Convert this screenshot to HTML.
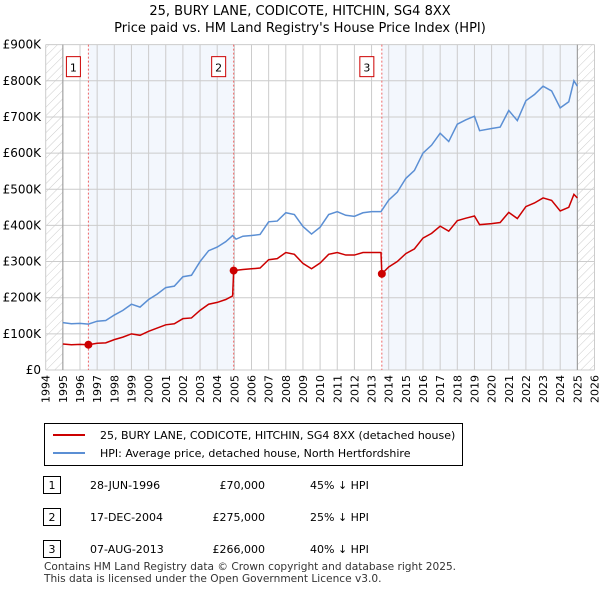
<!DOCTYPE html>
<html><head><meta charset="utf-8"><style>
body{margin:0;background:#fff;font-family:"Liberation Sans","DejaVu Sans",sans-serif;}
svg text{font-family:"DejaVu Sans","Liberation Sans",sans-serif;}
</style></head><body>
<svg id="c" width="600" height="590" xmlns="http://www.w3.org/2000/svg">
<defs><pattern id="hatch" width="6" height="6" patternUnits="userSpaceOnUse" patternTransform="rotate(45)"><line x1="0" y1="0" x2="0" y2="6" stroke="#ccc" stroke-width="1"/></pattern></defs>
<text x="300" y="15" text-anchor="middle" font-size="13">25, BURY LANE, CODICOTE, HITCHIN, SG4 8XX</text>
<text x="300" y="32" text-anchor="middle" font-size="13">Price paid vs. HM Land Registry's House Price Index (HPI)</text>
<g id="plot"></g>
<g>
<rect x="44.5" y="423.5" width="418" height="42" fill="#fff" stroke="#000"/>
<line x1="53" y1="435" x2="85" y2="435" stroke="#cc0000" stroke-width="2"/>
<text x="100" y="439" font-size="11">25, BURY LANE, CODICOTE, HITCHIN, SG4 8XX (detached house)</text>
<line x1="53" y1="453" x2="85" y2="453" stroke="#5b8fd4" stroke-width="2"/>
<text x="100" y="457" font-size="11">HPI: Average price, detached house, North Hertfordshire</text>
</g>
<g font-size="11">
<rect x="43.5" y="476.5" width="17" height="17" fill="#fff" stroke="#000"/><text x="52" y="489" text-anchor="middle">1</text>
<text x="90" y="489">28-JUN-1996</text><text x="265" y="489" text-anchor="end">£70,000</text><text x="310" y="489">45% ↓ HPI</text>
<rect x="43.5" y="508.5" width="17" height="17" fill="#fff" stroke="#000"/><text x="52" y="521" text-anchor="middle">2</text>
<text x="90" y="521">17-DEC-2004</text><text x="265" y="521" text-anchor="end">£275,000</text><text x="310" y="521">25% ↓ HPI</text>
<rect x="43.5" y="540.5" width="17" height="17" fill="#fff" stroke="#000"/><text x="52" y="553" text-anchor="middle">3</text>
<text x="90" y="553">07-AUG-2013</text><text x="265" y="553" text-anchor="end">£266,000</text><text x="310" y="553">40% ↓ HPI</text>
</g>
<text x="44" y="570" font-size="10.6" fill="#333">Contains HM Land Registry data © Crown copyright and database right 2025.</text>
<text x="44" y="582" font-size="10.6" fill="#333">This data is licensed under the Open Government Licence v3.0.</text>
</svg>
<script>
const yTicks=[0,100,200,300,400,500,600,700,800,900];
const yTickLabels=["£0","£100K","£200K","£300K","£400K","£500K","£600K","£700K","£800K","£900K"];
const years=[1994,1995,1996,1997,1998,1999,2000,2001,2002,2003,2004,2005,2006,2007,2008,2009,2010,2011,2012,2013,2014,2015,2016,2017,2018,2019,2020,2021,2022,2023,2024,2025,2026];
const hpiDates=[1995.0,1995.5,1996.0,1996.49,1997.0,1997.5,1998.0,1998.5,1999.0,1999.5,2000.0,2000.5,2001.0,2001.5,2002.0,2002.5,2003.0,2003.5,2004.0,2004.5,2004.9,2005.1,2005.5,2006.0,2006.5,2007.0,2007.5,2008.0,2008.5,2009.0,2009.5,2010.0,2010.5,2011.0,2011.5,2012.0,2012.5,2013.0,2013.55,2014.0,2014.5,2015.0,2015.5,2016.0,2016.5,2017.0,2017.5,2018.0,2018.5,2019.0,2019.3,2020.0,2020.5,2021.0,2021.5,2022.0,2022.5,2023.0,2023.5,2024.0,2024.5,2024.8,2025.0];
const hpiValues=[131,128,129,127,135,137,152,165,182,174,195,210,228,232,258,262,300,330,340,355,372,362,370,372,375,410,412,435,430,397,376,395,430,438,428,425,435,438,438,470,492,530,552,600,622,655,632,680,692,702,662,668,672,718,690,745,762,785,772,725,742,800,785];
const priceDates=[1995.0,1995.5,1996.0,1996.49,1997.0,1997.5,1998.0,1998.5,1999.0,1999.5,2000.0,2000.5,2001.0,2001.5,2002.0,2002.5,2003.0,2003.5,2004.0,2004.5,2004.9,2004.96,2005.5,2006.0,2006.5,2007.0,2007.5,2008.0,2008.5,2009.0,2009.5,2010.0,2010.5,2011.0,2011.5,2012.0,2012.5,2013.0,2013.55,2013.6,2014.0,2014.5,2015.0,2015.5,2016.0,2016.5,2017.0,2017.5,2018.0,2018.5,2019.0,2019.3,2020.0,2020.5,2021.0,2021.5,2022.0,2022.5,2023.0,2023.5,2024.0,2024.5,2024.8,2025.0];
const priceValues=[72,70,71,70,74,75,84,91,100,96,107,116,125,128,142,144,165,182,187,195,205,275,278,280,282,305,308,325,320,295,280,296,320,325,318,318,325,325,325,266,285,300,322,335,365,378,398,384,413,420,426,402,405,408,436,419,452,462,476,469,440,450,486,476];
const saleDates=[1996.49,2004.96,2013.6];
const saleValues=[70,275,266];
const saleLabels=["1","2","3"];

const X0=45.7,PY=17.15,Y0=370,PK=0.3615;
const x=d=>X0+(d-1994)*PY, y=v=>Y0-v*PK;
const NS="http://www.w3.org/2000/svg", g=document.getElementById('plot');
function mk(t,a,p){const e=document.createElementNS(NS,t);for(const k in a)e.setAttribute(k,a[k]);(p||g).appendChild(e);return e;}
const pTop=y(900), pBot=y(0);
let e;
e=mk('rect',{x:x(1994),y:pTop,width:x(2026)-x(1994),height:pBot-pTop,fill:'#fff'});


e=mk('rect',{x:x(1994),y:pTop,width:x(1995)-x(1994),height:pBot-pTop,fill:'url(#hatch)'});


e=mk('rect',{x:x(2025),y:pTop,width:x(2026)-x(2025),height:pBot-pTop,fill:'url(#hatch)'});


e=mk('rect',{x:x(saleDates[0]),y:pTop,width:x(saleDates[1])-x(saleDates[0]),height:pBot-pTop,fill:'#eef3fc',opacity:0.7});


e=mk('rect',{x:x(saleDates[2]),y:pTop,width:x(2025)-x(saleDates[2]),height:pBot-pTop,fill:'#eef3fc',opacity:0.7});


years.forEach(yr=>{
 e=mk('line',{x1:x(yr),x2:x(yr),y1:pTop,y2:pBot,stroke:'#ccc','stroke-width':1});
 
 
 e=mk('text',{x:0,y:0,'font-size':11,'text-anchor':'end',transform:`translate(${x(yr)+4},${pBot+5}) rotate(-90)`});
 e.textContent=yr;
 
 
});
yTicks.forEach((v,i)=>{
 e=mk('line',{x1:x(1994),x2:x(2026),y1:y(v),y2:y(v),stroke:'#ccc','stroke-width':1});
 
 
 e=mk('text',{x:41,y:y(v)+4,'font-size':12,'text-anchor':'end'});
 e.textContent=yTickLabels[i];
 
 
});
e=mk('line',{x1:x(1995),x2:x(1995),y1:pTop,y2:pBot,stroke:'#999','stroke-width':1});


e=mk('line',{x1:x(2025),x2:x(2025),y1:pTop,y2:pBot,stroke:'#999','stroke-width':1});


saleDates.forEach((d,i)=>{
 e=mk('line',{x1:x(d),x2:x(d),y1:pTop,y2:pBot,stroke:'#e66','stroke-width':1,'stroke-dasharray':'2,2'});
 
 
 e=mk('rect',{x:x(d)-22,y:pTop+12,width:14,height:20,fill:'#fff',stroke:'#cc0000'});
 
 
 e=mk('text',{x:x(d)-15,y:pTop+27,'font-size':11,'text-anchor':'middle'});
 e.textContent=saleLabels[i];
 
 
});
e=mk('polyline',{points:hpiDates.map((d,i)=>x(d)+','+y(hpiValues[i])).join(' '),fill:'none',stroke:'#5b8fd4','stroke-width':1.5});


e=mk('polyline',{points:priceDates.map((d,i)=>x(d)+','+y(priceValues[i])).join(' '),fill:'none',stroke:'#cc0000','stroke-width':1.5});


saleDates.forEach((d,i)=>{
 e=mk('circle',{cx:x(d),cy:y(saleValues[i]),r:4,fill:'#cc0000'});
 
 
});
</script>
</body></html>
